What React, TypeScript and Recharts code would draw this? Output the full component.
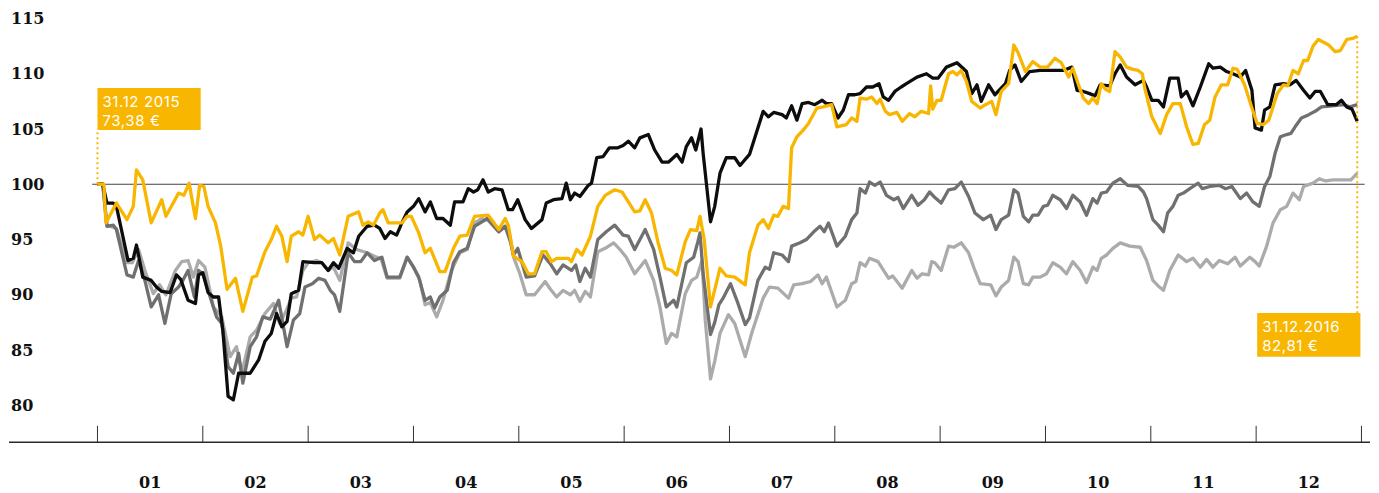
import React from "react";
import { LineChart, Line, XAxis, YAxis, ReferenceLine, ReferenceArea } from "recharts";

type Pt = [number, number];

const monthLabels = ["01", "02", "03", "04", "05", "06", "07", "08", "09", "10", "11", "12"];
const yTicks = [80, 85, 90, 95, 100, 105, 110, 115];
const startLabel = ["31.12 2015", "73,38 €"];
const endLabel = ["31.12.2016", "82,81 €"];

// [month position in 2016 (0 = 1 Jan, 12 = 31 Dec), indexed value]
const yellowLine: Pt[] = [
  [0, 100], [0.06, 100], [0.08, 96.5], [0.18, 98.3], [0.28, 96.8], [0.34, 98.0], [0.37, 101.3], [0.43, 100.4], [0.51, 96.5], [0.61, 98.6], [0.65, 97.1], [0.77, 99.2], [0.82, 99.0], [0.87, 100.1], [0.93, 96.9], [0.97, 99.9],
  [1.01, 99.8], [1.05, 98.0], [1.12, 96.5], [1.17, 94.4], [1.23, 90.5], [1.31, 91.5], [1.38, 88.5], [1.47, 91.6], [1.51, 91.7], [1.59, 93.9], [1.65, 95.0], [1.70, 96.2], [1.75, 95.3], [1.80, 93.0], [1.84, 95.3], [1.91, 95.7], [1.95, 95.4],
  [2.00, 97.1], [2.06, 95.0], [2.11, 95.4], [2.19, 94.7], [2.24, 95.1], [2.30, 93.6], [2.38, 97.1], [2.48, 97.5], [2.52, 96.3], [2.57, 96.6], [2.62, 96.3], [2.68, 97.4], [2.71, 97.7], [2.76, 96.5], [2.89, 96.5], [2.94, 97.1], [2.98, 97.1],
  [3.05, 95.6], [3.11, 93.8], [3.16, 94.2], [3.25, 92.1], [3.30, 92.1], [3.38, 94.2], [3.44, 95.3], [3.51, 95.4], [3.58, 97.1], [3.71, 97.2], [3.81, 95.9], [3.87, 96.9], [3.90, 96.3], [3.95, 93.5],
  [4.03, 93.0], [4.09, 91.9], [4.15, 91.9], [4.22, 93.9], [4.26, 93.9], [4.31, 93.0], [4.36, 93.3], [4.47, 93.3], [4.50, 93.0], [4.55, 94.1], [4.60, 93.6], [4.68, 95.3], [4.75, 98.0], [4.82, 99.0], [4.91, 99.5], [4.98, 99.3],
  [5.04, 98.4], [5.10, 97.5], [5.15, 97.6], [5.20, 98.6], [5.26, 97.4], [5.32, 94.8], [5.39, 92.4], [5.45, 92.2], [5.50, 91.8], [5.58, 94.8], [5.63, 95.9], [5.69, 95.8], [5.72, 97.1], [5.76, 95.0], [5.82, 88.9], [5.91, 92.4], [5.97, 91.7],
  [6.05, 91.6], [6.15, 90.9], [6.19, 93.8], [6.27, 96.3], [6.32, 96.8], [6.37, 96.0], [6.42, 97.2], [6.46, 97.1], [6.51, 98.0], [6.56, 97.8], [6.59, 103.3], [6.64, 104.3], [6.70, 104.9], [6.75, 105.5], [6.83, 106.9], [6.89, 107.0], [6.97, 107.2],
  [7.02, 105.2], [7.11, 105.4], [7.16, 106.0], [7.21, 105.7], [7.24, 107.8], [7.30, 107.7], [7.35, 107.9], [7.40, 107.3], [7.43, 107.7], [7.48, 106.6], [7.52, 106.3], [7.59, 106.5], [7.64, 105.7], [7.71, 106.4], [7.76, 106.1], [7.82, 106.6], [7.89, 106.4], [7.91, 108.9], [7.93, 106.8], [7.97, 107.6],
  [8.01, 107.6], [8.08, 110.0], [8.12, 110.2], [8.16, 109.9], [8.20, 110.3], [8.25, 109.3], [8.30, 107.5], [8.38, 106.9], [8.43, 107.2], [8.49, 107.5], [8.53, 106.3], [8.58, 108.4], [8.65, 109.1], [8.70, 112.6], [8.74, 111.9], [8.81, 110.2], [8.88, 111.1], [8.95, 110.6],
  [9.02, 110.6], [9.09, 111.4], [9.15, 111.0], [9.22, 109.7], [9.26, 110.5], [9.31, 109.1], [9.36, 107.8], [9.41, 107.3], [9.45, 107.8], [9.49, 107.3], [9.53, 109.1], [9.57, 108.6], [9.61, 108.4], [9.66, 112.0], [9.71, 111.5], [9.77, 110.6], [9.83, 110.4], [9.88, 110.3], [9.92, 110.0], [9.94, 108.8],
  [10.01, 106.1], [10.09, 104.6], [10.15, 106.3], [10.21, 107.3], [10.28, 107.3], [10.34, 105.2], [10.40, 103.6], [10.45, 103.7], [10.51, 105.4], [10.56, 105.8], [10.61, 107.9], [10.67, 109.0], [10.73, 109.0], [10.78, 110.5], [10.82, 110.4], [10.89, 109.0], [10.96, 106.9],
  [11.01, 105.5], [11.07, 105.4], [11.12, 105.8], [11.20, 108.2], [11.26, 109.0], [11.30, 108.9], [11.35, 110.3], [11.40, 110.0], [11.45, 111.2], [11.49, 111.2], [11.54, 112.5], [11.59, 113.1], [11.69, 112.6], [11.75, 112.0], [11.80, 112.1], [11.86, 113.1], [11.92, 113.2], [11.96, 113.4],
];

const blackLine: Pt[] = [
  [0, 100], [0.05, 100], [0.09, 98.3], [0.15, 98.3], [0.18, 98.0], [0.29, 93.1], [0.34, 93.3], [0.37, 94.5], [0.40, 93.1], [0.43, 91.6], [0.51, 91.3], [0.56, 90.7], [0.61, 90.3], [0.69, 90.2], [0.75, 91.8], [0.79, 91.4], [0.86, 89.5], [0.93, 89.2], [0.96, 91.8],
  [1.00, 92.0], [1.05, 90.2], [1.10, 89.8], [1.15, 89.8], [1.19, 86.8], [1.24, 80.8], [1.29, 80.5], [1.34, 82.9], [1.38, 82.9], [1.45, 82.9], [1.53, 84.1], [1.59, 85.8], [1.65, 86.5], [1.70, 88.3], [1.75, 87.1], [1.80, 87.6], [1.84, 90.1], [1.91, 90.4], [1.95, 93.0],
  [2.06, 92.9], [2.13, 92.9], [2.19, 92.2], [2.24, 92.9], [2.29, 92.4], [2.37, 94.2], [2.43, 93.8], [2.48, 95.3], [2.56, 96.2], [2.63, 96.3], [2.68, 96.0], [2.73, 95.1], [2.78, 95.7], [2.84, 95.4], [2.89, 96.5], [2.94, 97.5],
  [3.00, 98.0], [3.05, 98.7], [3.11, 97.5], [3.16, 98.4], [3.22, 96.9], [3.28, 96.9], [3.35, 96.3], [3.39, 98.4], [3.47, 98.4], [3.52, 99.6], [3.57, 99.3], [3.61, 99.5], [3.66, 100.4], [3.71, 99.3], [3.77, 99.6], [3.84, 99.5], [3.90, 97.7], [3.94, 97.7], [3.99, 98.6],
  [4.06, 96.8], [4.12, 96.0], [4.22, 96.8], [4.26, 98.3], [4.33, 98.6], [4.41, 98.7], [4.45, 100.1], [4.49, 98.6], [4.53, 99.2], [4.58, 98.9], [4.66, 99.9], [4.69, 100.1], [4.74, 102.4], [4.80, 102.5], [4.86, 103.3], [4.94, 103.3], [4.99, 103.5],
  [5.04, 103.9], [5.10, 103.3], [5.15, 104.2], [5.23, 104.5], [5.29, 103.1], [5.36, 102.0], [5.42, 102.0], [5.50, 102.7], [5.55, 102.0], [5.59, 103.4], [5.64, 104.2], [5.68, 103.1], [5.73, 105.0], [5.75, 102.8], [5.82, 96.6], [5.86, 98.0], [5.91, 101.0], [5.97, 102.4],
  [6.05, 102.4], [6.10, 101.7], [6.19, 102.7], [6.26, 104.8], [6.32, 106.6], [6.37, 106.1], [6.42, 106.5], [6.50, 106.3], [6.54, 106.0], [6.59, 107.1], [6.64, 105.8], [6.69, 107.3], [6.75, 107.4], [6.81, 107.2], [6.88, 107.6], [6.92, 107.3], [6.97, 107.3],
  [7.03, 106.0], [7.08, 106.7], [7.13, 108.1], [7.19, 108.1], [7.24, 108.2], [7.30, 108.8], [7.36, 108.8], [7.42, 109.1], [7.46, 107.9], [7.51, 107.6], [7.57, 108.4], [7.63, 108.8], [7.68, 109.1], [7.73, 109.4], [7.78, 109.7], [7.87, 110.0], [7.93, 109.6], [7.98, 109.6],
  [8.06, 110.6], [8.16, 111.0], [8.25, 110.2], [8.30, 108.2], [8.35, 109.0], [8.39, 107.5], [8.46, 109.0], [8.52, 108.1], [8.62, 109.1], [8.66, 110.3], [8.71, 110.8], [8.77, 109.3], [8.85, 110.2], [8.95, 110.3],
  [9.17, 110.3], [9.25, 110.6], [9.30, 108.5], [9.36, 108.4], [9.42, 108.2], [9.47, 108.0], [9.52, 109.0], [9.61, 108.9], [9.66, 110.0], [9.71, 110.8], [9.77, 109.7], [9.85, 109.0], [9.93, 109.4], [9.96, 108.8],
  [10.01, 107.6], [10.07, 107.6], [10.12, 107.0], [10.18, 109.6], [10.26, 109.6], [10.29, 107.9], [10.34, 108.4], [10.40, 107.1], [10.47, 108.8], [10.55, 110.9], [10.59, 110.5], [10.66, 110.6], [10.72, 110.2], [10.78, 110.0], [10.85, 109.7], [10.90, 110.3], [10.96, 108.5], [10.99, 105.1],
  [11.05, 104.9], [11.08, 106.7], [11.13, 107.0], [11.18, 109.0], [11.26, 109.1], [11.32, 109.0], [11.38, 109.4], [11.45, 108.5], [11.51, 107.8], [11.56, 108.4], [11.61, 108.4], [11.68, 107.2], [11.76, 107.2], [11.81, 107.6], [11.86, 107.0], [11.91, 106.8], [11.96, 105.7],
];

const darkGrayLine: Pt[] = [
  [0, 100], [0.05, 100], [0.09, 96.2], [0.15, 96.3], [0.18, 95.9], [0.28, 91.8], [0.34, 91.6], [0.39, 93.1], [0.45, 91.3], [0.51, 88.9], [0.58, 90.0], [0.64, 87.4], [0.70, 90.1], [0.77, 90.7], [0.81, 91.3], [0.86, 92.2], [0.92, 89.8], [0.96, 92.2],
  [1.00, 91.9], [1.07, 89.8], [1.13, 88.0], [1.18, 87.4], [1.24, 83.5], [1.29, 82.9], [1.34, 84.7], [1.38, 82.0], [1.45, 85.3], [1.51, 86.2], [1.57, 88.0], [1.64, 87.8], [1.72, 89.5], [1.80, 85.3], [1.86, 87.7], [1.92, 88.3], [1.97, 90.7],
  [2.04, 91.0], [2.10, 91.5], [2.16, 91.3], [2.21, 90.4], [2.25, 90.0], [2.30, 88.5], [2.38, 93.8], [2.44, 93.0], [2.50, 93.0], [2.56, 93.8], [2.63, 93.1], [2.70, 93.4], [2.75, 91.6], [2.87, 91.6], [2.94, 93.4],
  [3.00, 92.5], [3.05, 91.6], [3.11, 89.5], [3.16, 89.8], [3.20, 88.8], [3.25, 89.8], [3.32, 90.4], [3.38, 92.9], [3.44, 93.9], [3.51, 94.2], [3.58, 96.2], [3.65, 96.6], [3.70, 96.9], [3.81, 95.7], [3.87, 96.2], [3.92, 94.8], [3.95, 93.6], [3.99, 94.2],
  [4.07, 91.6], [4.15, 91.7], [4.23, 93.6], [4.30, 92.8], [4.36, 91.9], [4.42, 92.7], [4.50, 92.2], [4.54, 92.7], [4.58, 91.2], [4.63, 92.4], [4.68, 91.6], [4.75, 95.0], [4.83, 95.7], [4.91, 96.3], [4.99, 95.4],
  [5.04, 95.3], [5.10, 94.1], [5.20, 95.9], [5.28, 94.1], [5.34, 91.6], [5.40, 88.9], [5.47, 89.5], [5.50, 88.9], [5.59, 92.9], [5.66, 93.4], [5.70, 94.8], [5.72, 95.6], [5.75, 91.9], [5.82, 86.4], [5.86, 87.5], [5.90, 89.1], [5.94, 89.7],
  [6.01, 91.0], [6.07, 89.5], [6.15, 87.3], [6.19, 87.9], [6.27, 91.3], [6.34, 92.5], [6.38, 92.3], [6.42, 93.8], [6.50, 93.6], [6.56, 93.0], [6.59, 94.4], [6.67, 94.7], [6.73, 95.0], [6.80, 95.7], [6.86, 96.2], [6.90, 95.7], [6.94, 96.5],
  [7.02, 94.4], [7.10, 95.3], [7.16, 96.8], [7.21, 97.4], [7.24, 99.6], [7.29, 99.2], [7.33, 100.2], [7.38, 99.9], [7.43, 100.2], [7.49, 99.0], [7.56, 98.6], [7.60, 98.8], [7.65, 97.8], [7.73, 99.0], [7.79, 98.1], [7.85, 98.6], [7.90, 99.3], [7.95, 98.8],
  [8.01, 98.3], [8.08, 99.5], [8.14, 99.6], [8.20, 100.2], [8.27, 98.9], [8.33, 97.4], [8.41, 96.8], [8.48, 97.2], [8.53, 95.9], [8.58, 96.8], [8.65, 97.2], [8.70, 99.5], [8.74, 99.2], [8.79, 97.1], [8.84, 96.6], [8.88, 97.2], [8.93, 97.2], [8.98, 98.0],
  [9.02, 98.1], [9.07, 99.0], [9.14, 98.6], [9.20, 97.8], [9.26, 99.0], [9.33, 98.4], [9.39, 97.2], [9.45, 98.7], [9.49, 98.3], [9.53, 99.2], [9.58, 99.3], [9.64, 100.1], [9.71, 100.5], [9.78, 99.9], [9.88, 99.8], [9.93, 99.3], [9.96, 98.7],
  [10.02, 96.8], [10.07, 96.3], [10.12, 95.7], [10.16, 97.4], [10.21, 98.0], [10.26, 99.0], [10.31, 99.2], [10.37, 99.6], [10.45, 100.1], [10.49, 99.6], [10.56, 99.8], [10.65, 99.9], [10.71, 99.6], [10.77, 99.8], [10.85, 98.7], [10.91, 99.2], [10.97, 98.4],
  [11.03, 98.0], [11.08, 99.8], [11.13, 100.7], [11.18, 102.8], [11.23, 104.3], [11.29, 104.5], [11.33, 104.6], [11.37, 105.2], [11.43, 106.0], [11.50, 106.3], [11.56, 106.6], [11.62, 107.0], [11.72, 107.1], [11.83, 107.2], [11.89, 107.0], [11.96, 107.2],
];

const lightGrayLine: Pt[] = [
  [0, 100], [0.05, 100], [0.09, 96.3], [0.18, 96.0], [0.28, 92.9], [0.33, 92.9], [0.39, 94.1], [0.45, 92.2], [0.53, 90.1], [0.59, 90.9], [0.65, 90.0], [0.74, 92.2], [0.80, 93.0], [0.86, 93.1], [0.91, 91.6], [0.96, 93.1],
  [1.02, 92.5], [1.10, 88.9], [1.18, 88.0], [1.26, 84.4], [1.32, 85.3], [1.37, 82.9], [1.45, 86.2], [1.51, 86.8], [1.59, 88.3], [1.67, 89.2], [1.73, 87.4], [1.79, 88.5], [1.84, 89.7], [1.89, 89.8], [1.95, 92.2],
  [2.00, 92.9], [2.08, 93.1], [2.13, 92.9], [2.19, 92.2], [2.24, 92.5], [2.30, 91.3], [2.38, 94.7], [2.46, 94.1], [2.56, 93.8], [2.65, 93.4], [2.69, 93.3], [2.75, 91.5], [2.87, 91.5], [2.94, 93.4],
  [3.00, 92.5], [3.06, 91.3], [3.11, 89.1], [3.16, 89.3], [3.22, 88.0], [3.28, 89.5], [3.36, 92.2], [3.44, 93.8], [3.51, 94.1], [3.58, 96.5], [3.65, 96.9], [3.71, 96.7], [3.81, 95.7], [3.87, 96.2], [3.91, 95.6], [3.95, 93.4],
  [4.01, 91.9], [4.07, 90.0], [4.15, 90.0], [4.25, 91.2], [4.30, 90.5], [4.36, 89.8], [4.42, 90.4], [4.49, 90.0], [4.53, 90.4], [4.58, 89.4], [4.63, 90.3], [4.68, 89.8], [4.75, 93.9], [4.82, 94.2], [4.90, 94.7], [4.96, 94.1],
  [5.02, 93.4], [5.10, 91.9], [5.20, 93.1], [5.28, 91.3], [5.34, 88.9], [5.40, 85.6], [5.45, 86.5], [5.50, 86.2], [5.58, 90.1], [5.64, 91.3], [5.69, 91.6], [5.74, 93.1], [5.77, 87.7], [5.82, 82.4], [5.86, 84.0], [5.91, 86.5], [5.99, 88.2],
  [6.05, 87.4], [6.15, 84.4], [6.21, 86.5], [6.32, 89.7], [6.38, 90.7], [6.46, 90.6], [6.56, 89.7], [6.61, 90.9], [6.69, 91.0], [6.77, 91.2], [6.84, 91.8], [6.88, 91.0], [6.92, 91.6],
  [7.02, 88.9], [7.10, 89.5], [7.16, 91.0], [7.20, 91.2], [7.24, 92.9], [7.29, 92.6], [7.33, 93.3], [7.41, 93.0], [7.51, 91.5], [7.55, 91.7], [7.64, 90.6], [7.73, 92.2], [7.78, 91.5], [7.83, 91.9], [7.89, 91.8], [7.92, 93.0], [7.95, 92.9],
  [8.01, 92.2], [8.08, 94.4], [8.13, 94.3], [8.20, 94.7], [8.27, 93.8], [8.33, 92.2], [8.38, 91.0], [8.48, 90.9], [8.53, 89.9], [8.58, 90.7], [8.65, 91.3], [8.70, 93.4], [8.74, 93.0], [8.79, 91.0], [8.84, 90.9], [8.88, 91.6], [8.95, 91.6],
  [9.01, 91.9], [9.07, 92.9], [9.14, 92.5], [9.20, 91.9], [9.26, 93.0], [9.33, 92.2], [9.39, 91.1], [9.45, 92.5], [9.49, 92.2], [9.53, 93.3], [9.58, 93.6], [9.64, 94.2], [9.71, 94.7], [9.80, 94.4], [9.90, 94.3], [9.96, 93.1],
  [10.02, 91.3], [10.07, 90.8], [10.12, 90.4], [10.18, 92.2], [10.26, 93.6], [10.34, 93.0], [10.40, 93.3], [10.47, 92.5], [10.53, 93.2], [10.59, 92.5], [10.65, 93.1], [10.73, 92.8], [10.80, 93.4], [10.85, 92.6], [10.94, 93.4], [10.99, 93.0],
  [11.03, 92.6], [11.10, 94.4], [11.16, 96.5], [11.23, 97.7], [11.29, 98.0], [11.35, 99.2], [11.41, 98.6], [11.45, 99.8], [11.54, 100.1], [11.60, 100.5], [11.66, 100.3], [11.73, 100.4], [11.90, 100.4], [11.96, 101.0],
];

const YELLOW = "#f8b600";
const BLACK = "#0d0d0d";
const DARK_GRAY = "#707070";
const LIGHT_GRAY = "#ababab";
const AXIS_FONT = "'DejaVu Serif', 'Liberation Serif', serif";
const BOX_FONT = "Inter, 'Open Sans', sans-serif";

const toRows = (pts: Pt[]) => pts.map(([m, v]) => ({ m, v }));

const xTicks: number[] = [0, ...monthLabels.flatMap((_, i) => [i + 0.5, i + 1])];

const XTick = (props: any) => {
  const { x, y, payload } = props;
  const v = payload.value as number;
  if (Number.isInteger(v)) {
    return <line x1={x} x2={x} y1={y - 16.5} y2={y} stroke="#333" strokeWidth={1} />;
  }
  return (
    <text x={x} y={y + 40} textAnchor="middle" dominantBaseline="central" fontFamily={AXIS_FONT} fontWeight="bold" fontSize={16} fill="#111">
      {monthLabels[Math.floor(v)]}
    </text>
  );
};

const YTick = (props: any) => {
  const { y, payload } = props;
  return (
    <text x={3} y={y} textAnchor="start" dominantBaseline="central" fontFamily={AXIS_FONT} fontWeight="bold" fontSize={16} fill="#111">
      {payload.value}
    </text>
  );
};

const BoxLabel = (props: any) => {
  const { viewBox, lines } = props;
  const { x, y } = viewBox;
  return (
    <g>
      {lines.map((t: string, i: number) => (
        <text key={i} x={x + 5} y={y + 19 + i * 18.5} fill="#fff" fontFamily={BOX_FONT} fontSize={15} letterSpacing={0.6}>
          {t}
        </text>
      ))}
    </g>
  );
};

export default function App() {
  return (
    <div style={{ width: 1371, height: 485 }}>
      <LineChart width={1371} height={485} margin={{ top: 10.5, right: 9, bottom: 10.7, left: 0 }}>
        <XAxis
          type="number"
          dataKey="m"
          domain={[-0.84, 12.081]}
          ticks={xTicks}
          interval={0}
          allowDataOverflow
          tickLine={false}
          tickSize={0}
          tickMargin={0}
          tick={<XTick />}
          axisLine={{ stroke: "#2a2a2a", strokeWidth: 1.6 }}
          height={40}
        />
        <YAxis
          type="number"
          domain={[76.65, 115]}
          ticks={yTicks}
          interval={0}
          allowDataOverflow
          width={1}
          axisLine={false}
          tickLine={false}
          tick={<YTick />}
        />
        <ReferenceLine segment={[{ x: -0.05, y: 100 }, { x: 12.03, y: 100 }]} stroke="#444" strokeWidth={1} />
        <Line data={toRows(lightGrayLine)} dataKey="v" stroke={LIGHT_GRAY} strokeWidth={3.3} dot={false} isAnimationActive={false} strokeLinejoin="round" />
        <Line data={toRows(darkGrayLine)} dataKey="v" stroke={DARK_GRAY} strokeWidth={3.3} dot={false} isAnimationActive={false} strokeLinejoin="round" />
        <Line data={toRows(blackLine)} dataKey="v" stroke={BLACK} strokeWidth={3.3} dot={false} isAnimationActive={false} strokeLinejoin="round" />
        <Line data={toRows(yellowLine)} dataKey="v" stroke={YELLOW} strokeWidth={3.3} dot={false} isAnimationActive={false} strokeLinejoin="round" />
        <ReferenceLine segment={[{ x: 0, y: 100 }, { x: 0, y: 104.9 }]} stroke={YELLOW} strokeWidth={2} strokeDasharray="2 3" />
        <ReferenceArea x1={0} x2={0.98} y1={104.9} y2={108.7} fill={YELLOW} fillOpacity={1} stroke="none" label={<BoxLabel lines={startLabel} />} />
        <ReferenceLine segment={[{ x: 11.96, y: 113.4 }, { x: 11.96, y: 88.35 }]} stroke={YELLOW} strokeWidth={2} strokeDasharray="2 3" />
        <ReferenceArea x1={11.01} x2={11.99} y1={84.4} y2={88.35} fill={YELLOW} fillOpacity={1} stroke="none" label={<BoxLabel lines={endLabel} />} />
      </LineChart>
    </div>
  );
}
